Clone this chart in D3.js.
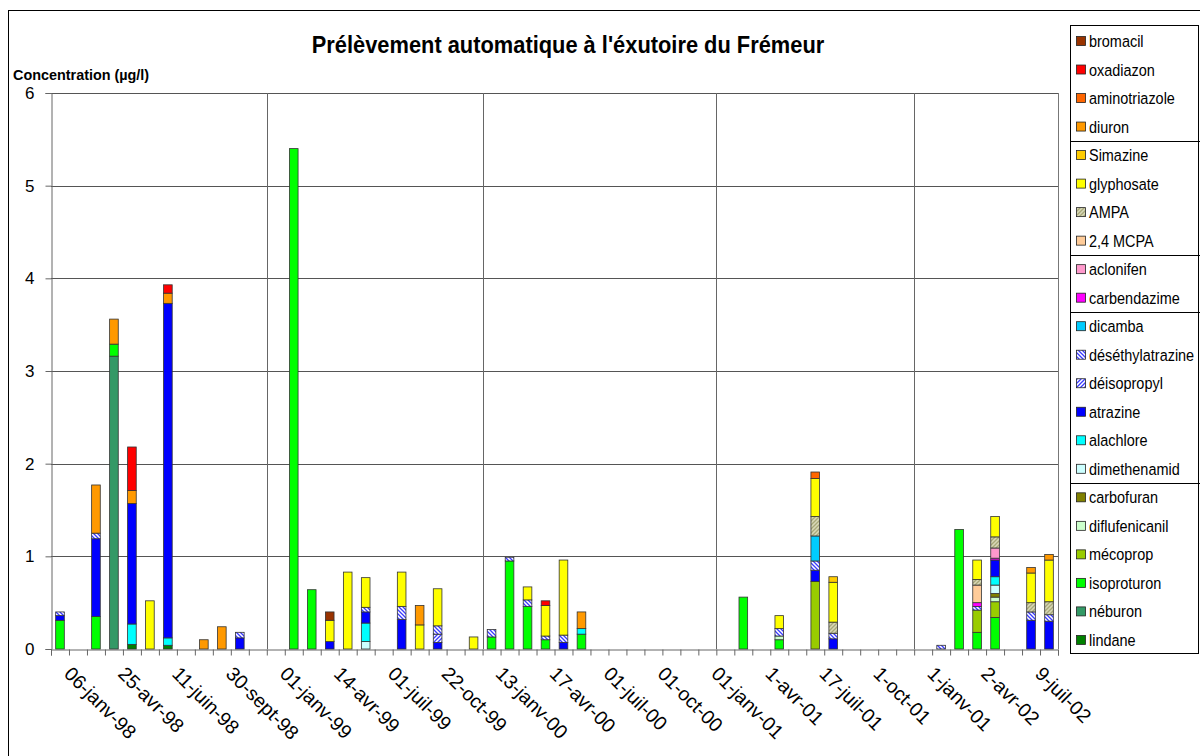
<!DOCTYPE html>
<html><head><meta charset="utf-8">
<script src="https://cdn.jsdelivr.net/npm/d3@7"></script>
<style>body{margin:0;background:#fff}svg{display:block}text{font-family:"Liberation Sans",Arial,sans-serif;fill:#000}</style>
</head><body><svg id="c" width="1200" height="756"></svg>
<script>
// ---------- DATA ----------
const categories = ["06-janv-98","","","25-avr-98","","","11-juin-98","","","30-sept-98","","",
"01-janv-99","","","14-avr-99","","","01-juil-99","","","22-oct-99","","",
"13-janv-00","","","17-avr-00","","","01-juil-00","","","01-oct-00","","",
"01-janv-01","","","1-avr-01","","","17-juil-01","","","1-oct-01","","",
"1-janv-01","","","2-avr-02","","","9-juil-02",""];
const yearBreaks = [12,24,37,48];
const yTicks = [0,1,2,3,4,5,6];
// series (bottom of stack first)
const lindane        = [0,0,0,0,0.05,0,0.04,0,0,0,0,0,0,0,0,0,0,0,0,0,0,0,0,0,0,0,0,0,0,0,0,0,0,0,0,0,0,0,0,0,0,0,0,0,0,0,0,0,0,0,0,0,0,0,0,0];
const neburon        = [0,0,0,3.16,0,0,0,0,0,0,0,0,0,0,0,0,0,0,0,0,0,0,0,0,0,0,0,0,0,0,0,0,0,0,0,0,0,0,0,0,0,0,0,0,0,0,0,0,0,0,0,0,0,0,0,0];
const isoproturon    = [0.31,0,0.35,0.13,0,0,0,0,0,0,0,0,0,5.40,0.64,0,0,0,0,0,0,0,0,0,0.13,0.95,0.46,0.10,0,0.16,0,0,0,0,0,0,0,0,0.56,0,0.10,0,0,0,0,0,0,0,0,0,1.29,0.18,0.34,0,0,0];
const mecoprop       = [0,0,0,0,0,0,0,0,0,0,0,0,0,0,0,0,0,0,0,0,0,0,0,0,0,0,0,0,0,0,0,0,0,0,0,0,0,0,0,0,0,0,0.73,0,0,0,0,0,0,0,0,0.24,0.17,0,0,0];
const diflufenicanil = [0,0,0,0,0,0,0,0,0,0,0,0,0,0,0,0,0,0,0,0,0,0,0,0,0,0,0,0,0,0,0,0,0,0,0,0,0,0,0,0,0.04,0,0,0,0,0,0,0,0,0,0,0,0.05,0,0,0];
const carbofuran     = [0,0,0,0,0,0,0,0,0,0,0,0,0,0,0,0,0,0,0,0,0,0,0,0,0,0,0,0,0,0,0,0,0,0,0,0,0,0,0,0,0,0,0,0,0,0,0,0,0,0,0,0,0.04,0,0,0];
const dimethenamid   = [0,0,0,0,0,0,0,0,0,0,0,0,0,0,0,0,0,0.08,0,0,0,0,0,0,0,0,0,0,0,0,0,0,0,0,0,0,0,0,0,0,0,0,0,0,0,0,0,0,0,0,0,0,0.09,0,0,0];
const alachlore      = [0,0,0,0,0.22,0,0.08,0,0,0,0,0,0,0,0,0,0,0.20,0,0,0,0,0,0,0,0,0,0,0,0.06,0,0,0,0,0,0,0,0,0,0,0,0,0,0,0,0,0,0,0,0,0,0,0.09,0,0,0];
const atrazine       = [0.05,0,0.84,0,1.30,0,3.61,0,0,0,0.12,0,0,0,0,0.08,0,0.12,0,0.32,0,0.07,0,0,0,0,0,0,0.07,0,0,0,0,0,0,0,0,0,0,0,0,0,0.12,0.11,0,0,0,0,0,0,0,0,0.18,0,0.31,0.30];
const deisopropyl    = [0,0,0,0,0,0,0,0,0,0,0,0,0,0,0,0,0,0,0,0,0,0.09,0,0,0,0,0,0,0,0,0,0,0,0,0,0,0,0,0,0,0,0,0,0,0,0,0,0,0,0,0,0,0,0,0,0];
const desethyl       = [0.04,0,0.06,0,0,0,0,0,0,0,0.06,0,0,0,0,0,0,0.05,0,0.14,0,0.09,0,0,0.08,0.04,0.07,0.04,0.08,0,0,0,0,0,0,0,0,0,0,0,0.08,0,0.10,0.06,0,0,0,0,0,0.04,0,0.04,0,0,0.09,0.07];
const dicamba        = [0,0,0,0,0,0,0,0,0,0,0,0,0,0,0,0,0,0,0,0,0,0,0,0,0,0,0,0,0,0,0,0,0,0,0,0,0,0,0,0,0,0,0.27,0,0,0,0,0,0,0,0,0,0,0,0,0];
const carbendazime   = [0,0,0,0,0,0,0,0,0,0,0,0,0,0,0,0,0,0,0,0,0,0,0,0,0,0,0,0,0,0,0,0,0,0,0,0,0,0,0,0,0,0,0,0,0,0,0,0,0,0,0,0.04,0.02,0,0,0];
const aclonifen      = [0,0,0,0,0,0,0,0,0,0,0,0,0,0,0,0,0,0,0,0,0,0,0,0,0,0,0,0,0,0,0,0,0,0,0,0,0,0,0,0,0,0,0,0,0,0,0,0,0,0,0,0,0.11,0,0,0];
const mcpa           = [0,0,0,0,0,0,0,0,0,0,0,0,0,0,0,0,0,0,0,0,0,0,0,0,0,0,0,0,0,0,0,0,0,0,0,0,0,0,0,0,0,0,0,0,0,0,0,0,0,0,0,0.19,0,0,0,0];
const ampa           = [0,0,0,0,0,0,0,0,0,0,0,0,0,0,0,0,0,0,0,0,0,0,0,0,0,0,0,0,0,0,0,0,0,0,0,0,0,0,0,0,0,0,0.21,0.12,0,0,0,0,0,0,0,0.06,0.12,0,0.10,0.14];
const glyphosate     = [0,0,0,0,0,0.52,0,0,0,0,0,0,0,0,0,0.23,0.83,0.32,0,0.37,0.26,0.40,0,0.13,0,0,0.14,0.33,0.81,0,0,0,0,0,0,0,0,0,0,0,0.14,0,0.41,0.43,0,0,0,0,0,0,0,0.21,0.22,0,0.32,0.45];
const simazine       = [0,0,0,0,0,0,0,0,0,0,0,0,0,0,0,0,0,0,0,0,0,0,0,0,0,0,0,0,0,0,0,0,0,0,0,0,0,0,0,0,0,0,0,0.06,0,0,0,0,0,0,0,0,0,0,0,0];
const diuron         = [0,0,0.52,0.27,0.14,0,0.11,0,0.10,0.24,0,0,0,0,0,0,0,0,0,0,0.21,0,0,0,0,0,0,0,0,0.18,0,0,0,0,0,0,0,0,0,0,0,0,0,0,0,0,0,0,0,0,0,0,0,0,0.06,0.06];
const aminotriazole  = [0,0,0,0,0,0,0,0,0,0,0,0,0,0,0,0,0,0,0,0,0,0,0,0,0,0,0,0,0,0,0,0,0,0,0,0,0,0,0,0,0,0,0.07,0,0,0,0,0,0,0,0,0,0,0,0,0];
const oxadiazon      = [0,0,0,0,0.47,0,0.09,0,0,0,0,0,0,0,0,0,0,0,0,0,0,0,0,0,0,0,0,0.05,0,0,0,0,0,0,0,0,0,0,0,0,0,0,0,0,0,0,0,0,0,0,0,0,0,0,0,0];
const bromacil       = [0,0,0,0,0,0,0,0,0,0,0,0,0,0,0,0.09,0,0,0,0,0,0,0,0,0,0,0,0,0,0,0,0,0,0,0,0,0,0,0,0,0,0,0,0,0,0,0,0,0,0,0,0,0,0,0,0];

const seriesNames = ["lindane","néburon","isoproturon","mécoprop","diflufenicanil","carbofuran","dimethenamid","alachlore","atrazine","déisopropyl","déséthylatrazine","dicamba","carbendazime","aclonifen","2,4 MCPA","AMPA","glyphosate","Simazine","diuron","aminotriazole","oxadiazon","bromacil"];
const seriesValues = [lindane,neburon,isoproturon,mecoprop,diflufenicanil,carbofuran,dimethenamid,alachlore,atrazine,deisopropyl,desethyl,dicamba,carbendazime,aclonifen,mcpa,ampa,glyphosate,simazine,diuron,aminotriazole,oxadiazon,bromacil];
const seriesColors = ["#008000","#339966","#00ff00","#99cc00","#ccffcc","#808000","#ccffff","#00ffff","#0000ff","url(#hDeiso)","url(#hDeseth)","#00ccff","#ff00ff","#ff99cc","#ffcc99","url(#hAmpa)","#ffff00","#ffcc00","#ff9900","#ff6600","#ff0000","#993300"];
const legendBreaksAfter = ["diuron","2,4 MCPA","carbendazime","dimethenamid"];

// ---------- DRAW ----------
const svg = d3.select("#c");
const defs = svg.append("defs");
function hatch(id, bg, fg, dir, size, w){
  const p = defs.append("pattern").attr("id",id).attr("patternUnits","userSpaceOnUse").attr("width",size).attr("height",size);
  p.append("rect").attr("width",size).attr("height",size).attr("fill",bg);
  const d = dir>0 ? `M0,${size} L${size},0 M-1,1 L1,-1 M${size-1},${size+1} L${size+1},${size-1}`
                  : `M0,0 L${size},${size} M-1,${size-1} L1,${size+1} M${size-1},-1 L${size+1},1`;
  p.append("path").attr("d",d).attr("stroke",fg).attr("stroke-width",w);
}
hatch("hDeseth","#ffffff","#3a3aff",-1,4,1.3);
hatch("hDeiso","#ffffff","#3a3aff",1,4,1.3);
hatch("hAmpa","#d8d8b8","#a8a878",1,4,1.3);

const X0 = 51, X1 = 1058, Y0 = 649, Y1 = 93;
const x = d3.scaleBand().domain(d3.range(categories.length)).range([X0,X1]).padding(0);
const xb = d3.scaleLinear().domain([0,categories.length]).range([X0,X1]);
const y = d3.scaleLinear().domain([0,6]).range([Y0,Y1]);

function stxt(parent, px, py, s, size, sx, opts={}){
  const t = parent.append("text").attr("transform",`translate(${px},${py}) scale(${sx},1)`)
    .attr("font-size",size).text(s);
  if(opts.bold) t.attr("font-weight","bold");
  if(opts.anchor) t.attr("text-anchor",opts.anchor);
  return t;
}

// outer frame
svg.append("rect").attr("x",8.5).attr("y",10.5).attr("width",1210).attr("height",760).attr("fill","#fff").attr("stroke","#000");

// title & y label
stxt(svg,568,53,"Prélèvement automatique à l'éxutoire du Frémeur",23,0.95,{bold:true,anchor:"middle"});
stxt(svg,13,80,"Concentration (µg/l)",15,0.96,{bold:true});

// gridlines
svg.append("g").selectAll("line").data(yTicks.slice(1)).join("line")
  .attr("x1",X0).attr("x2",X1).attr("y1",d=>Math.round(y(d))+0.5).attr("y2",d=>Math.round(y(d))+0.5)
  .attr("stroke","#555").attr("stroke-width",1);
svg.append("g").selectAll("line").data(yearBreaks).join("line")
  .attr("x1",d=>Math.round(xb(d))+0.5).attr("x2",d=>Math.round(xb(d))+0.5).attr("y1",Y1).attr("y2",Y0)
  .attr("stroke","#666").attr("stroke-width",1);
svg.append("line").attr("x1",X1+0.5).attr("x2",X1+0.5).attr("y1",Y1).attr("y2",Y0).attr("stroke","#777");

// axes
const ya = svg.append("g").attr("transform",`translate(${X0+0.5},0)`)
  .call(d3.axisLeft(y).tickValues(yTicks).tickSize(6).tickPadding(11).tickFormat(d3.format("d")));
ya.select(".domain").attr("stroke","#666");
ya.selectAll(".tick line").attr("stroke","#666");
ya.selectAll("text").attr("font-size",17).attr("font-family","Liberation Sans, Arial, sans-serif").attr("fill","#000");

const xa = svg.append("g").attr("transform",`translate(0,${Y0+0.5})`)
  .call(d3.axisBottom(xb).tickValues(d3.range(categories.length+1)).tickSize(6).tickFormat(""));
xa.select(".domain").attr("stroke","#666");
xa.selectAll(".tick line").attr("stroke","#666");

// stacked bars
const rows = categories.map((c,i)=>{ const r={i}; seriesNames.forEach((n,k)=>r[n]=seriesValues[k][i]); return r; });
const stack = d3.stack().keys(seriesNames)(rows);
const bw = x.bandwidth()*0.48;
svg.append("g").selectAll("g").data(stack).join("g")
  .attr("fill",(d,k)=>seriesColors[k])
  .selectAll("rect").data(d=>d.filter(s=>s[1]-s[0]>0)).join("rect")
  .attr("x",d=>x(d.data.i)+(x.bandwidth()-bw)/2).attr("width",bw)
  .attr("y",d=>y(d[1])).attr("height",d=>y(d[0])-y(d[1]))
  .attr("stroke","#333").attr("stroke-width",0.8);

// x labels
const lg = svg.append("g");
categories.forEach((c,i)=>{
  if(!c) return;
  lg.append("text").attr("transform",`translate(${x(i)+x.bandwidth()/2+3},675) rotate(45)`)
    .attr("font-size",19.5).text(c);
});

// legend
const LX = 1070, LY = 25, LW = 130, LH = 628;
svg.append("rect").attr("x",LX+0.5).attr("y",LY+0.5).attr("width",LW-2).attr("height",LH).attr("fill","#fff").attr("stroke","#000");
const legendOrder = seriesNames.slice().reverse();
const rowH = 28.52, firstY = 41;
legendOrder.forEach((n,j)=>{
  const k = seriesNames.indexOf(n);
  const cy = firstY + j*rowH;
  svg.append("rect").attr("x",LX+6.5).attr("y",cy-4.5).attr("width",9).attr("height",9)
    .attr("fill",seriesColors[k]).attr("stroke","#222").attr("stroke-width",0.8);
  stxt(svg,LX+19,cy+6,n,17,0.85);
  if(legendBreaksAfter.includes(n)){
    const ly = Math.round(cy + rowH/2)+0.5;
    svg.append("line").attr("x1",LX).attr("x2",LX+LW).attr("y1",ly).attr("y2",ly).attr("stroke","#000");
  }
});
</script></body></html>
